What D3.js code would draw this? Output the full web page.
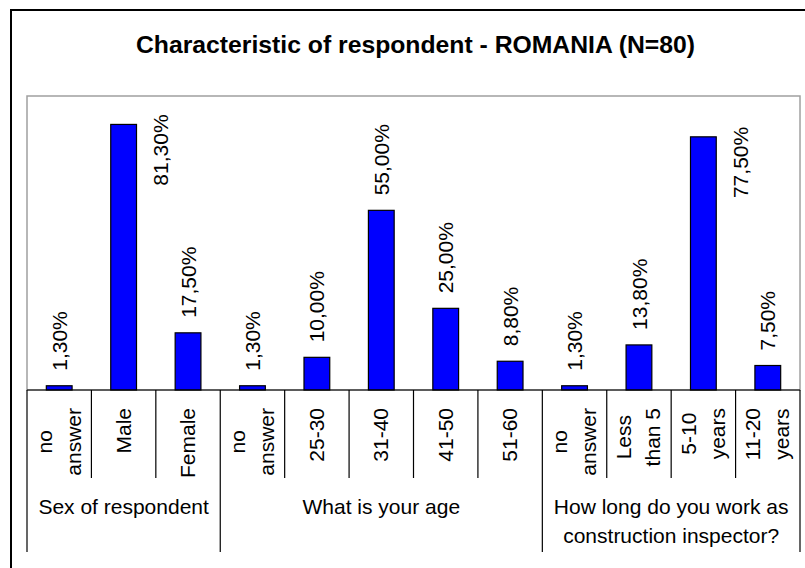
<!DOCTYPE html>
<html>
<head>
<meta charset="utf-8">
<script src="https://cdn.jsdelivr.net/npm/d3@7"></script>
<style>
  body { margin: 0; background: #fff; }
  text { font-family: "Liberation Sans", Arial, sans-serif; fill: #000; }
</style>
</head>
<body>
<div id="chart"></div>
<script>
// data
const categories = ["no\nanswer", "Male", "Female",
                    "no\nanswer", "25-30", "31-40", "41-50", "51-60",
                    "no\nanswer", "Less\nthan 5", "5-10\nyears", "11-20\nyears"];
const values = [1.3, 81.3, 17.5, 1.3, 10.0, 55.0, 25.0, 8.8, 1.3, 13.8, 77.5, 7.5];
const groupNames = ["Sex of respondent", "What is your age", "How long do you work as\nconstruction inspector?"];
const groupSizes = [3, 5, 4];

const width = 805, height = 568;
const plot = { left: 27, right: 800, top: 96, bottom: 390 };

const svg = d3.select("#chart")
    .append("svg")
    .attr("width", width)
    .attr("height", height);

// outer frame (runs off the right and bottom edge)
svg.append("rect")
    .attr("x", 11).attr("y", 10)
    .attr("width", 830).attr("height", 600)
    .attr("fill", "none")
    .attr("stroke", "#000")
    .attr("stroke-width", 2);

svg.append("text")
    .attr("x", 415.5)
    .attr("y", 53)
    .attr("text-anchor", "middle")
    .attr("font-size", 23)
    .attr("font-weight", "bold")
    .attr("textLength", 559)
    .attr("lengthAdjust", "spacingAndGlyphs")
    .text("Characteristic of respondent - ROMANIA (N=80)");

// plot area
svg.append("rect")
    .attr("x", plot.left).attr("y", plot.top)
    .attr("width", plot.right - plot.left)
    .attr("height", plot.bottom - plot.top)
    .attr("fill", "none")
    .attr("stroke", "#a0a0a0")
    .attr("stroke-width", 1.5);

const x = d3.scaleBand()
    .domain(d3.range(categories.length))
    .range([plot.left, plot.right])
    .paddingInner(0.6)
    .paddingOuter(0.3);

const y = d3.scaleLinear()
    .domain([0, 90])
    .range([plot.bottom, plot.top]);

svg.selectAll("rect.bar")
    .data(values)
    .enter()
    .append("rect")
    .attr("class", "bar")
    .attr("x", (d, i) => x(i))
    .attr("y", d => y(d))
    .attr("width", x.bandwidth())
    .attr("height", d => y(0) - y(d))
    .attr("fill", "#0000ff")
    .attr("stroke", "#000")
    .attr("stroke-width", 1.2);

// value labels, rotated; moved beside the bar when they don't fit above it
const fmt = d => d.toFixed(2).replace(".", ",") + "%";
svg.selectAll("text.val")
    .data(values)
    .enter()
    .append("text")
    .attr("class", "val")
    .attr("font-size", 21)
    .attr("dy", "0.36em")
    .text(d => fmt(d))
    .each(function(d, i) {
        const t = d3.select(this);
        const len = this.getComputedTextLength();
        const cx = x(i) + x.bandwidth() / 2;
        const top = y(d);
        if (top - 15 - len > plot.top + 10) {
            t.attr("text-anchor", "start")
             .attr("transform", `translate(${cx},${top - 15}) rotate(-90)`);
        } else {
            t.attr("text-anchor", "end")
             .attr("transform", `translate(${cx + 37},${top - 10}) rotate(-90)`);
        }
    });

// x axis line
svg.append("line")
    .attr("x1", plot.left).attr("x2", plot.right)
    .attr("y1", plot.bottom).attr("y2", plot.bottom)
    .attr("stroke", "#000")
    .attr("stroke-width", 1.2);

// separators between categories and between groups
const step = x.step();
const groupEdges = [0];
groupSizes.forEach(s => groupEdges.push(groupEdges[groupEdges.length - 1] + s));
d3.range(categories.length + 1).forEach(i => {
    const isGroup = groupEdges.includes(i);
    svg.append("line")
        .attr("x1", plot.left + i * step).attr("x2", plot.left + i * step)
        .attr("y1", plot.bottom)
        .attr("y2", isGroup ? 552 : 478)
        .attr("stroke", "#000")
        .attr("stroke-width", 1.2);
});

// category labels (rotated, lines centred on each other, top aligned)
const lineGap = 29;
categories.forEach((c, i) => {
    const lines = c.split("\n");
    const cx = x(i) + x.bandwidth() / 2;
    const g = svg.append("g");
    const texts = lines.map((l, j) => g.append("text")
        .attr("font-size", 21)
        .attr("text-anchor", "middle")
        .text(l));
    const maxLen = d3.max(texts, t => t.node().getComputedTextLength());
    const cy = 408 + maxLen / 2;
    texts.forEach((t, j) => {
        const bx = cx + 7 + (j - (lines.length - 1) / 2) * lineGap;
        t.attr("transform", `translate(${bx},${cy}) rotate(-90)`);
    });
});

// group labels
groupNames.forEach((name, k) => {
    const x0 = plot.left + groupEdges[k] * step;
    const x1 = plot.left + groupEdges[k + 1] * step;
    name.split("\n").forEach((l, j) => {
        svg.append("text")
            .attr("x", (x0 + x1) / 2)
            .attr("y", 514 + j * lineGap)
            .attr("text-anchor", "middle")
            .attr("font-size", 21)
            .text(l);
    });
});
</script>
</body>
</html>
